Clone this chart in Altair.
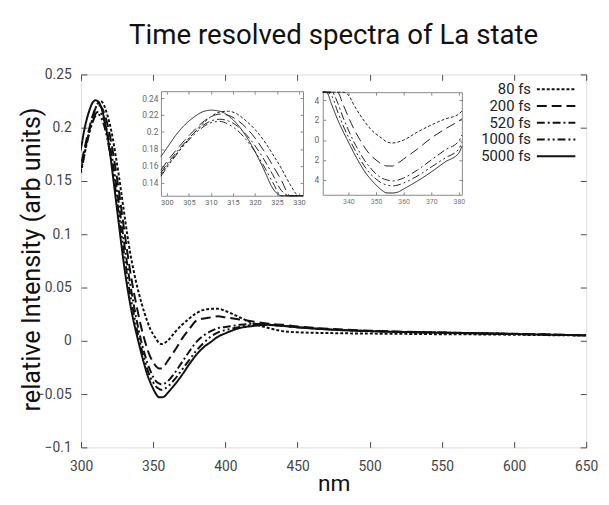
import altair as alt
import pandas as pd

# ---------------- data ----------------
wavelength = [298, 300, 302, 304, 306, 308, 310, 312, 314, 316, 318, 320, 322, 324, 326, 328,
              330, 332, 334, 336, 338, 340, 342, 344, 346, 348, 350, 352, 354, 356, 358, 360,
              365, 370, 375, 380, 385, 390, 395, 400, 410, 420, 430, 440, 450, 475, 500, 525,
              550, 575, 600, 625, 650]

fs80 = [0.150, 0.160, 0.173, 0.186, 0.198, 0.209, 0.218, 0.2235, 0.2245, 0.221, 0.213, 0.203,
        0.190, 0.174, 0.157, 0.138, 0.119, 0.100, 0.083, 0.069, 0.056, 0.045, 0.035, 0.026,
        0.018, 0.011, 0.006, 0.002, -0.002, -0.003, -0.002, 0.000, 0.008, 0.015, 0.021, 0.026,
        0.029, 0.030, 0.030, 0.028, 0.022, 0.016, 0.012, 0.009, 0.008, 0.0072, 0.0068, 0.0065,
        0.0062, 0.0060, 0.0057, 0.0053, 0.0050]
fs200 = [0.155, 0.165, 0.178, 0.190, 0.201, 0.211, 0.218, 0.221, 0.2195, 0.214, 0.205, 0.193,
         0.178, 0.161, 0.143, 0.123, 0.103, 0.084, 0.066, 0.050, 0.036, 0.023, 0.011, 0.001,
         -0.008, -0.015, -0.020, -0.024, -0.026, -0.026, -0.023, -0.019, -0.009, 0.002, 0.011,
         0.019, 0.021, 0.022, 0.023, 0.022, 0.020, 0.018, 0.016, 0.015, 0.0135, 0.011, 0.0095,
         0.0085, 0.0078, 0.0072, 0.0066, 0.0059, 0.0053]
fs520 = [0.152, 0.162, 0.175, 0.187, 0.198, 0.207, 0.213, 0.215, 0.213, 0.207, 0.197, 0.184,
         0.168, 0.150, 0.131, 0.111, 0.091, 0.072, 0.054, 0.038, 0.023, 0.010, -0.002, -0.012,
         -0.021, -0.028, -0.034, -0.038, -0.040, -0.041, -0.040, -0.038, -0.030, -0.020, -0.010,
         -0.001, 0.005, 0.009, 0.012, 0.013, 0.015, 0.016, 0.015, 0.014, 0.0128, 0.0105, 0.0092,
         0.0083, 0.0077, 0.0071, 0.0065, 0.0058, 0.0052]
fs1000 = [0.148, 0.158, 0.172, 0.185, 0.196, 0.205, 0.211, 0.2125, 0.209, 0.202, 0.191, 0.177,
          0.160, 0.141, 0.121, 0.100, 0.080, 0.061, 0.044, 0.029, 0.015, 0.003, -0.008, -0.018,
          -0.027, -0.034, -0.039, -0.043, -0.045, -0.046, -0.045, -0.043, -0.036, -0.027, -0.018,
          -0.009, -0.002, 0.004, 0.008, 0.010, 0.013, 0.015, 0.015, 0.014, 0.0127, 0.0104, 0.0091,
          0.0082, 0.0076, 0.0070, 0.0064, 0.0057, 0.0051]
fs5000 = [0.171, 0.181, 0.196, 0.208, 0.217, 0.2235, 0.2257, 0.2245, 0.219, 0.209, 0.195, 0.177,
          0.156, 0.134, 0.112, 0.090, 0.069, 0.051, 0.035, 0.021, 0.009, -0.002, -0.013, -0.023,
          -0.032, -0.039, -0.045, -0.050, -0.053, -0.053, -0.052, -0.049, -0.041, -0.032, -0.022,
          -0.013, -0.006, -0.001, 0.004, 0.007, 0.012, 0.014, 0.015, 0.014, 0.0127, 0.0104, 0.0091,
          0.0082, 0.0076, 0.0070, 0.0064, 0.0057, 0.0051]

series_names = ["80 fs", "200 fs", "520 fs", "1000 fs", "5000 fs"]
series_values = [fs80, fs200, fs520, fs1000, fs5000]

main_x_ticks = [300, 350, 400, 450, 500, 550, 600, 650]
main_y_ticks = [-0.1, -0.05, 0, 0.05, 0.1, 0.15, 0.2, 0.25]
inset1_x_ticks = [300, 305, 310, 315, 320, 325, 330]
inset1_y_ticks = [0.14, 0.16, 0.18, 0.2, 0.22, 0.24]
inset2_x_ticks = [340, 350, 360, 370, 380]
inset2_y_ticks = [-0.04, -0.02, 0, 0.02, 0.04]

rows = []
for name, vals in zip(series_names, series_values):
    for w, v in zip(wavelength, vals):
        rows.append({"nm": w, "value": v, "series": name})
df = pd.DataFrame(rows)
legend_df = pd.DataFrame({"series": series_names})

# ---------------- styling ----------------
W, H = 512, 378
FONT = "Roboto"
INK = "#111111"
FRAME = "#4a4a4a"
dash_patterns = [[3, 2], [10, 5], [8, 3, 2, 3], [8, 3, 2, 3, 2, 3], [1, 0]]
dash_scale = alt.Scale(domain=series_names, range=dash_patterns)


def tick_axis(values, orient, offset, size, color=FRAME, domain=False, width=1.0):
    return alt.Axis(values=values, orient=orient, offset=offset, labels=False, ticks=True,
                    tickSize=size, tickColor=color, tickWidth=width, domain=domain,
                    domainColor=color, domainWidth=width, grid=False, title=None)


def label_axis(values, orient, offset, size, color, pad, **kw):
    return alt.Axis(values=values, orient=orient, offset=offset, ticks=False, domain=False,
                    grid=False, labelFont=FONT, labelFontSize=size, labelColor=color,
                    labelPadding=pad, labelFlush=False, labelOverlap=False, **kw)


# ---------------- main panel ----------------
mx = alt.Scale(domain=[300, 650], nice=False, zero=False)
my = alt.Scale(domain=[-0.1, 0.25], nice=False, zero=False)

main = alt.Chart(df).mark_line(strokeWidth=2, color=INK, interpolate="monotone", clip=True).encode(
    x=alt.X("nm:Q", scale=mx,
            axis=label_axis(main_x_ticks, "bottom", 0, 14, "#444", 12, title="nm",
                            titleFont=FONT, titleFontSize=23, titleFontWeight="normal",
                            titleColor=INK, titleBaseline="alphabetic", titleY=44)),
    y=alt.Y("value:Q", scale=my,
            axis=label_axis(main_y_ticks, "left", 0, 14, "#444", 10, format="~g",
                            title="relative Intensity (arb units)", titleFont=FONT,
                            titleFontSize=25.5, titleFontWeight="normal", titleColor=INK,
                            titleBaseline="alphabetic", titleX=-42, titleY=187)),
    strokeDash=alt.StrokeDash("series:N", scale=dash_scale, legend=None),
)

main_ticks_a = alt.Chart(df).mark_line(strokeOpacity=0).encode(
    x=alt.X("nm:Q", scale=mx, axis=tick_axis(main_x_ticks, "top", -H, 6)),
    y=alt.Y("value:Q", scale=my, axis=tick_axis(main_y_ticks, "right", -W, 6)),
)
main_ticks_b = alt.Chart(df).mark_line(strokeOpacity=0).encode(
    x=alt.X("nm:Q", scale=mx, axis=tick_axis(main_x_ticks, "bottom", -H, 6)),
    y=alt.Y("value:Q", scale=my, axis=tick_axis(main_y_ticks, "left", -W, 6)),
)

# ---------------- legend (labels left of the line samples) ----------------
leg_y = alt.Y("series:N", scale=alt.Scale(type="point", domain=series_names, range=[15, 83], padding=0),
              axis=None)
legend_text = alt.Chart(legend_df).mark_text(align="right", baseline="middle", font=FONT,
                                             fontSize=15, color="#222").encode(
    x=alt.value(456), y=leg_y, text="series:N")
legend_lines = alt.Chart(legend_df).mark_rule(strokeWidth=2, color=INK).encode(
    x=alt.value(462), x2=alt.value(501), y=leg_y,
    strokeDash=alt.StrokeDash("series:N", scale=dash_scale, legend=None))

# ---------------- inset 1 (peak) ----------------
I1_L, I1_R, I1_T, I1_B = 81, 225, 17, 123
i1x = alt.Scale(domain=[298.66, 330.9], range=[I1_L, I1_R], nice=False, zero=False, clamp=True)
i1y = alt.Scale(domain=[0.1249, 0.2481], range=[I1_B, I1_T], nice=False, zero=False, clamp=True)
in1_src = alt.Chart(df).transform_filter(alt.FieldRangePredicate(field="nm", range=[298, 332]))

in1 = in1_src.mark_line(strokeWidth=1, color="#222", interpolate="monotone").encode(
    x=alt.X("nm:Q", scale=i1x,
            axis=label_axis(inset1_x_ticks, "bottom", -(H - I1_B), 7.5, "#666", 3, title=None)),
    y=alt.Y("value:Q", scale=i1y,
            axis=label_axis(inset1_y_ticks, "left", -I1_L, 8.5, "#666", 3, format="~g", title=None)),
    strokeDash=alt.StrokeDash("series:N", scale=dash_scale, legend=None),
)
in1_a = in1_src.mark_line(strokeOpacity=0).encode(
    x=alt.X("nm:Q", scale=i1x, axis=tick_axis(inset1_x_ticks, "top", -I1_B, 3, "#888", True)),
    y=alt.Y("value:Q", scale=i1y, axis=tick_axis(inset1_y_ticks, "right", -(W - I1_L), 3, "#888", True)),
)
in1_b = in1_src.mark_line(strokeOpacity=0).encode(
    x=alt.X("nm:Q", scale=i1x, axis=tick_axis(inset1_x_ticks, "bottom", -(H - I1_T), 3, "#888", True)),
    y=alt.Y("value:Q", scale=i1y, axis=tick_axis(inset1_y_ticks, "left", -I1_R, 3, "#888", True)),
)

# ---------------- inset 2 (minimum) ----------------
I2_L, I2_R, I2_T, I2_B = 245, 386, 18, 122
i2x = alt.Scale(domain=[330.7, 381.1], range=[I2_L, I2_R], nice=False, zero=False, clamp=True)
i2y = alt.Scale(domain=[-0.0548, 0.0479], range=[I2_B, I2_T], nice=False, zero=False, clamp=True)
in2_src = alt.Chart(df).transform_filter(alt.FieldRangePredicate(field="nm", range=[330, 385]))

in2 = in2_src.mark_line(strokeWidth=1, color="#222", interpolate="monotone").encode(
    x=alt.X("nm:Q", scale=i2x,
            axis=label_axis(inset2_x_ticks, "bottom", -(H - I2_B), 7, "#777", 3, title=None)),
    y=alt.Y("value:Q", scale=i2y,
            axis=label_axis(inset2_y_ticks, "left", -I2_L, 8.5, "#666", 4, title=None,
                            labelExpr="format(abs(datum.value) * 100, 'd')")),
    strokeDash=alt.StrokeDash("series:N", scale=dash_scale, legend=None),
)
in2_a = in2_src.mark_line(strokeOpacity=0).encode(
    x=alt.X("nm:Q", scale=i2x, axis=tick_axis(inset2_x_ticks, "top", -I2_B, 3, "#888", True)),
    y=alt.Y("value:Q", scale=i2y, axis=tick_axis(inset2_y_ticks, "right", -(W - I2_L), 3, "#888", True)),
)
in2_b = in2_src.mark_line(strokeOpacity=0).encode(
    x=alt.X("nm:Q", scale=i2x, axis=tick_axis(inset2_x_ticks, "bottom", -(H - I2_T), 3, "#888", True)),
    y=alt.Y("value:Q", scale=i2y, axis=tick_axis(inset2_y_ticks, "left", -I2_R, 3, "#888", True)),
)

chart = (
    alt.layer(main, main_ticks_a, main_ticks_b, in1, in1_a, in1_b, in2, in2_a, in2_b,
              legend_text, legend_lines)
    .resolve_scale(x="independent", y="independent")
    .resolve_axis(x="independent", y="independent")
    .properties(
        width=W, height=H,
        title=alt.TitleParams("Time resolved spectra of La state", font=FONT, fontSize=28,
                              fontWeight="normal", color=INK, anchor="middle", offset=18),
        autosize=alt.AutoSizeParams(type="none"),
        padding={"left": 74, "top": 64, "right": 15, "bottom": 47},
    )
    .configure_view(stroke=FRAME, strokeWidth=1.5)
    .configure(font=FONT)
)

chart.save("out.html", embed_options={"renderer": "svg", "actions": False})
